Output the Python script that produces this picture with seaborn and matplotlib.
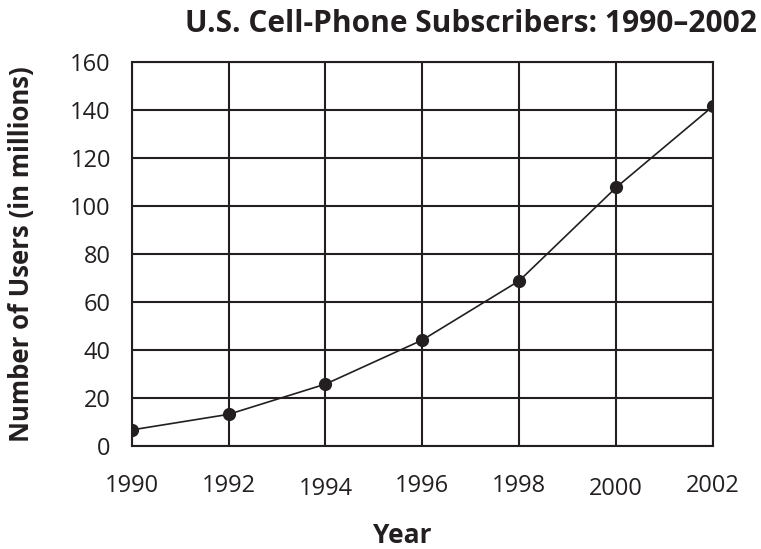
import numpy as np
import matplotlib.pyplot as plt
import matplotlib.transforms as mtransforms
import seaborn as sns
import pandas as pd

# values
years = [1990, 1992, 1994, 1996, 1998, 2000, 2002]
users = [6.7, 13.2, 25.8, 44.2, 68.9, 107.8, 141.7]
y_ticks = [0, 20, 40, 60, 80, 100, 120, 140, 160]

df = pd.DataFrame({'Year': years, 'Users': users})

sns.set_style('white')
plt.rcParams['font.family'] = ['Open Sans', 'DejaVu Sans']

fig = plt.figure(figsize=(7.61, 5.49), dpi=100)
ax = fig.add_axes([0.173, 0.1876, 0.764, 0.699])

sns.lineplot(data=df, x='Year', y='Users', ax=ax, color='#231f20', linewidth=1.2,
             marker='o', markersize=9.5, markeredgewidth=0, zorder=3)

ax.set_xlim(1990, 2002)
ax.set_ylim(0, 160)
ax.set_xticks(years)
ax.set_yticks(y_ticks)
ax.grid(True, color='#231f20', linewidth=1.5)
for s in ax.spines.values():
    s.set_color('#231f20')
    s.set_linewidth(1.5)
ax.tick_params(axis='both', length=0, labelsize=17, colors='#231f20')
ax.tick_params(axis='x', pad=20)
ax.tick_params(axis='y', pad=15)

# some year labels sit slightly lower in the original
for lab in ax.get_xticklabels():
    if lab.get_text() in ('1994', '2000'):
        lab.set_transform(lab.get_transform() + mtransforms.ScaledTranslation(0, -3 / 100, fig.dpi_scale_trans))

ax.set_xlabel('Year', fontsize=19, fontweight='bold', color='#231f20', va='center')
ax.set_ylabel('Number of Users (in millions)', fontsize=18.5, fontweight='bold', color='#231f20', va='center')
ax.xaxis.set_label_coords(0.465, -0.232)
ax.yaxis.set_label_coords(-0.189, 0.5)

fig.text(0.995, 0.956, 'U.S. Cell-Phone Subscribers: 1990–2002', ha='right', va='center',
         fontsize=21.5, fontweight='bold', color='#231f20')

fig.savefig('out.png', dpi=100)
